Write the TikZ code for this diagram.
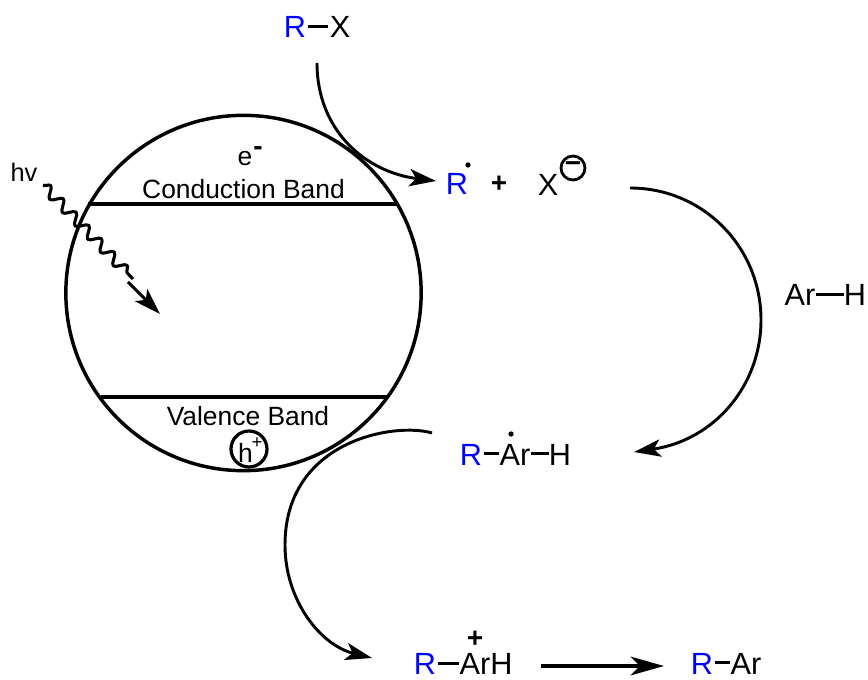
\documentclass[tikz,border=0pt]{standalone}
\usepackage{fontspec}
\setmainfont{Liberation Sans}
\usetikzlibrary{arrows.meta,decorations.pathmorphing}
\definecolor{rblue}{RGB}{0,0,255}
\tikzset{
  big/.style={font=\fontsize{23}{25}\selectfont,inner sep=0pt,anchor=base},
  blu/.style={big,text=rblue},
  label/.style={font=\fontsize{19.8}{21}\selectfont,inner sep=0pt,anchor=base},
  bond/.style={line width=2.4pt},
  ln/.style={line width=2.6pt},
  curve/.style={line width=2.2pt,-{Stealth[length=20pt,width=13pt,inset=5pt]}},
  dotn/.style={circle,fill=black,inner sep=0pt,minimum size=4pt},
  plusn/.style={font=\fontsize{21}{22}\bfseries\selectfont,inner sep=0pt,anchor=center},
}
\begin{document}
\begin{tikzpicture}[x=0.75pt,y=-0.75pt]
\useasboundingbox (0,0) rectangle (868,680);
\node[circle,draw,line width=2.6pt,minimum size=266.5pt,inner sep=0pt] (disc) at (243.5,293) {};
\coordinate (cbl) at (88,204); \coordinate (cbr) at (397,204);
\coordinate (vbl) at (101,397); \coordinate (vbr) at (387,397);
\draw[ln] (cbl) -- (cbr);
\draw[ln] (vbl) -- (vbr);
\node[label] (e) at (245,166) {e};
\node[font=\fontsize{21}{22}\bfseries\selectfont,inner sep=0pt] (em) at (258,151) {-};
\node[label] (cb) at (243.5,199) {Conduction Band};
\node[label] (vb) at (248,426) {Valence Band};
\node[circle,draw,line width=2.4pt,minimum size=27pt,inner sep=0pt] (hole) at (249,449) {};
\node[label] (h) at (245.5,463) {h};
\node[font=\fontsize{14}{15}\selectfont,inner sep=0pt] (hp) at (257,443) {+};
\node[label,font=\fontsize{19}{20}\selectfont] (hv) at (24,182) {hv};
\coordinate (w1) at (43,185); \coordinate (w2) at (133,279);
\draw[line width=2.3pt,line join=round,decorate,decoration={snake,segment length=13.8pt,amplitude=3.9pt}] (w1) -- (w2);
\coordinate (a1) at (128,282); \coordinate (a2) at (160,314);
\draw[curve] (a1) -- (a2);
% R-X
\node[blu] (R1) at (295,38) {R};
\node[big] (X1) at (340,38) {X};
\draw[bond] ([yshift=1pt,xshift=1pt]R1.east) -- ([yshift=1pt,xshift=-1pt]X1.west);
\coordinate (s1) at (317,63);
\coordinate (t1) at (436,181);
% R. + X-
\node[blu] (R2) at (457,195) {R};
\node[dotn] (d2) at (468,165) {};
\node[plusn] (p2) at (499,184) {+};
\node[big] (X2) at (548,196) {X};
\node[circle,draw,line width=2.1pt,minimum size=18pt,inner sep=0pt,font=\fontsize{21}{22}\bfseries\selectfont] (minus) at (573,168) {\raisebox{1pt}{−}};
\draw[curve] (s1) .. controls (317,130) and (365,172) .. (t1);
% Ar-H
\node[big] (Ar3) at (800,306) {Ar};
\node[big] (H3) at (855,306) {H};
\draw[bond] ([yshift=0.5pt]Ar3.east) -- ([yshift=0.5pt]H3.west);
% arrow 2
\coordinate (s2) at (630,188);
\coordinate (m2) at (761,320);
\coordinate (e2) at (634,452);
\draw[curve] (s2) .. controls (703,188) and (761,247) .. (m2) .. controls (761,385) and (715,440) .. (e2);
% R-Ar.-H
\node[blu] (R4) at (471,466) {R};
\node[big] (Ar4) at (515,466) {Ar};
\node[big] (H4) at (560,466) {H};
\node[dotn] (d4) at (511,434) {};
\draw[bond] ([yshift=1.5pt,xshift=1.5pt]R4.east) -- ([yshift=1.5pt]Ar4.west);
\draw[bond] ([yshift=1.5pt]Ar4.east) -- ([yshift=1.5pt]H4.west);
% arrow 3
\coordinate (s3) at (432,433);
\coordinate (m3) at (285,545);
\coordinate (e3) at (372,658);
\draw[curve] (s3) .. controls (395,422) and (285,440) .. (m3) .. controls (285,600) and (320,645) .. (e3);
% R-ArH
\node[blu] (R5) at (425,675) {R};
\node[big] (ArH) at (486,675) {ArH};
\node[plusn] (p5) at (475,639) {+};
\draw[bond] ([yshift=1pt,xshift=1pt]R5.east) -- ([yshift=1pt]ArH.west);
% R-Ar
\node[blu] (R6) at (702,675) {R};
\node[big] (Ar6) at (746,675) {Ar};
\draw[bond] ([yshift=1.5pt,xshift=1pt]R6.east) -- ([yshift=1.5pt]Ar6.west);
\coordinate (s6) at (541,666);
\coordinate (t6) at (664,666);
\draw[line width=3pt,-{Stealth[length=25pt,width=14pt,inset=7pt]}] (s6) -- (t6);
\end{tikzpicture}
\end{document}
